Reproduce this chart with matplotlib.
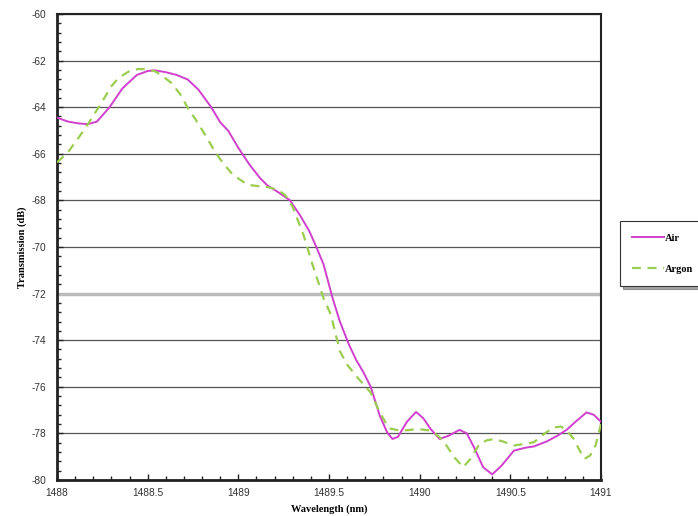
import matplotlib
matplotlib.use('Agg')
import matplotlib.pyplot as plt
from matplotlib.ticker import MultipleLocator

# wavelength (nm) / transmission (dB)
air_wl = [1488.0, 1488.06, 1488.12, 1488.17, 1488.22, 1488.29, 1488.36, 1488.44, 1488.50,
          1488.54, 1488.60, 1488.66, 1488.72, 1488.78, 1488.85, 1488.90, 1488.945, 1489.0,
          1489.06, 1489.12, 1489.16, 1489.22, 1489.285, 1489.34, 1489.39, 1489.43, 1489.47,
          1489.52, 1489.56, 1489.61, 1489.65, 1489.69, 1489.73, 1489.78, 1489.82, 1489.85,
          1489.88, 1489.93, 1489.98, 1490.02, 1490.06, 1490.11, 1490.16, 1490.22, 1490.26,
          1490.30, 1490.35, 1490.40, 1490.45, 1490.52, 1490.58, 1490.63, 1490.70, 1490.76,
          1490.81, 1490.86, 1490.92, 1490.96, 1491.0]
air_db = [-64.45, -64.62, -64.70, -64.73, -64.62, -64.0, -63.2, -62.62, -62.45,
          -62.42, -62.50, -62.62, -62.81, -63.25, -64.0, -64.65, -65.02, -65.75,
          -66.45, -67.05, -67.36, -67.65, -68.0, -68.64, -69.3, -70.0, -70.75,
          -72.2, -73.2, -74.19, -74.85, -75.38, -76.0, -77.24, -77.95, -78.24,
          -78.15, -77.5, -77.08, -77.35, -77.81, -78.24, -78.1, -77.85, -78.0,
          -78.6, -79.45, -79.76, -79.4, -78.74, -78.62, -78.56, -78.35, -78.1,
          -77.85, -77.5, -77.10, -77.2, -77.5]

argon_wl = [1488.0, 1488.06, 1488.12, 1488.17, 1488.24, 1488.30, 1488.34, 1488.40, 1488.45,
            1488.50, 1488.54, 1488.58, 1488.63, 1488.68, 1488.72, 1488.77, 1488.82, 1488.87,
            1488.92, 1488.97, 1489.05, 1489.12, 1489.16, 1489.22, 1489.26, 1489.30, 1489.36,
            1489.41, 1489.47, 1489.51, 1489.56, 1489.60, 1489.65, 1489.69, 1489.73, 1489.78,
            1489.83, 1489.89, 1489.94, 1489.98, 1490.02, 1490.06, 1490.10, 1490.13, 1490.19,
            1490.24, 1490.28, 1490.33, 1490.37, 1490.41, 1490.46, 1490.52, 1490.58, 1490.63,
            1490.69, 1490.74, 1490.78, 1490.82, 1490.85, 1490.88, 1490.91, 1490.94, 1490.97,
            1491.0]
argon_db = [-66.37, -65.94, -65.3, -64.73, -63.88, -63.1, -62.74, -62.45, -62.36,
            -62.38, -62.46, -62.65, -62.96, -63.45, -64.02, -64.6, -65.23, -65.9,
            -66.45, -66.9, -67.33, -67.40, -67.43, -67.55, -67.79, -68.28, -69.5,
            -70.78, -72.2, -72.9, -74.47, -75.05, -75.54, -75.9, -76.25, -77.1,
            -77.78, -77.88, -77.86, -77.81, -77.84, -77.88, -78.1, -78.31, -79.02,
            -79.45, -79.1, -78.45, -78.3, -78.24, -78.35, -78.52, -78.45, -78.38,
            -78.0, -77.74, -77.71, -77.95, -78.24, -78.7, -79.09, -78.95, -78.52,
            -77.6]

x_ticks = [1488, 1488.5, 1489, 1489.5, 1490, 1490.5, 1491]
x_labels = ['1488', '1488.5', '1489', '1489.5', '1490', '1490.5', '1491']
y_ticks = list(range(-80, -59, 2))

fig = plt.figure(figsize=(6.98, 5.16), dpi=100)
ax = fig.add_axes([0.0817, 0.0698, 0.7793, 0.9032])

ax.plot(air_wl, air_db, color='#D040CC', lw=1.4, label='Air', zorder=3)
ax.plot(argon_wl, argon_db, color='#9ACD50', lw=1.6, ls=(0, (4, 3)), label='Argon', zorder=3)

ax.set_xlim(1488, 1491)
ax.set_ylim(-80, -60)
ax.set_xticks(x_ticks)
ax.set_xticklabels(x_labels)
ax.xaxis.set_minor_locator(MultipleLocator(0.1))
ax.set_yticks(y_ticks)
ax.set_yticklabels([str(v) for v in y_ticks])
ax.yaxis.set_minor_locator(MultipleLocator(0.4))

ax.grid(axis='y', which='major', color='#555555', lw=0.9)
ax.axhline(-72, color='#BBBBBB', lw=2.5, zorder=2)
ax.tick_params(which='both', direction='in', color='#222222', labelsize=7.3,
               labelcolor='#333333', width=1)
ax.tick_params(which='major', length=4)
ax.tick_params(which='minor', length=3)
ax.tick_params(axis='y', pad=8)
ax.tick_params(axis='x', pad=6)
for lab in ax.get_xticklabels() + ax.get_yticklabels():
    lab.set_family('Liberation Sans')
for s in ax.spines.values():
    s.set_color('#222222')
    s.set_linewidth(1.5)
ax.spines['left'].set_linewidth(2)
ax.spines['bottom'].set_linewidth(2)

ax.set_xlabel('Wavelength (nm)', family='Liberation Serif', fontweight='bold',
              fontsize=7.5)
ax.xaxis.set_label_coords(0.5, -0.052)
ax.set_ylabel('Transmission (dB)', family='Liberation Serif', fontweight='bold',
              fontsize=7.5)
ax.yaxis.set_label_coords(-0.055, 0.5)

leg = fig.legend(loc='upper left', bbox_to_anchor=(0.888, 0.572), frameon=True,
                 shadow=True, fancybox=False, borderaxespad=0,
                 prop={'family': 'Liberation Serif', 'weight': 'bold', 'size': 7.5},
                 handlelength=3, handletextpad=0.1, labelspacing=2.1, borderpad=1.2)
leg.get_frame().set_edgecolor('#333333')
leg.get_frame().set_linewidth(0.8)

fig.savefig('out.png', dpi=100)
